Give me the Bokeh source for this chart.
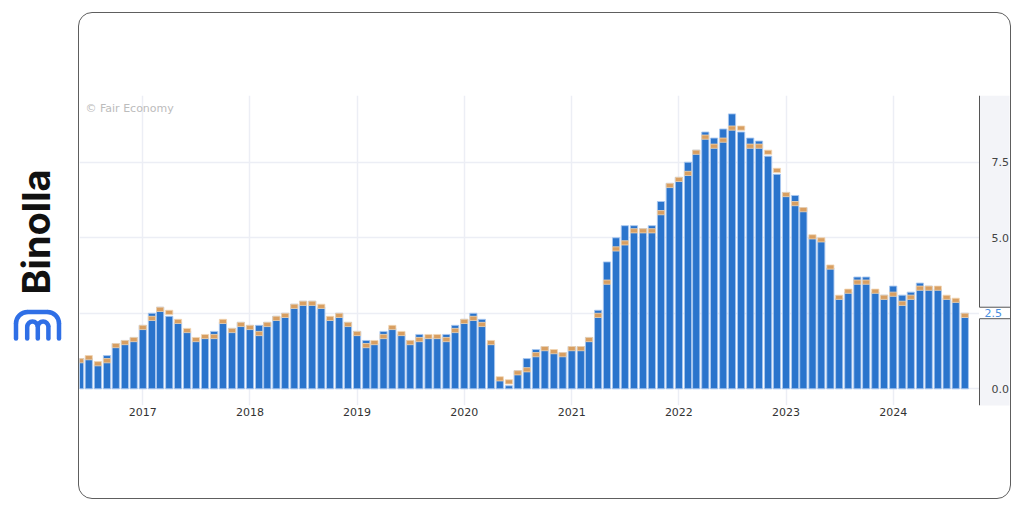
import numpy as np
import pandas as pd
from bokeh.plotting import figure
from bokeh.layouts import row, column
from bokeh.models import (Range1d, FixedTicker, DatetimeTickFormatter, PrintfTickFormatter,
                          Label, Spacer, LinearAxis, Grid)
from bokeh.embed import file_html
from bokeh.resources import INLINE

# ---------------- data (US CPI y/y, actual vs forecast, by release month) ----------------
months = pd.date_range("2016-06-01", "2024-09-01", freq="MS")
actual = [1.0, 1.0, 0.8, 1.1, 1.5, 1.6, 1.7,
          2.1, 2.5, 2.7, 2.4, 2.2, 1.9, 1.6, 1.7, 1.9, 2.2, 2.0, 2.2,
          2.1, 2.1, 2.2, 2.4, 2.5, 2.8, 2.9, 2.9, 2.7, 2.3, 2.5, 2.2,
          1.9, 1.6, 1.5, 1.9, 2.0, 1.8, 1.6, 1.8, 1.7, 1.7, 1.8, 2.1,
          2.3, 2.5, 2.3, 1.5, 0.3, 0.1, 0.6, 1.0, 1.3, 1.4, 1.2, 1.2,
          1.4, 1.4, 1.7, 2.6, 4.2, 5.0, 5.4, 5.4, 5.3, 5.4, 6.2, 6.8,
          7.0, 7.5, 7.9, 8.5, 8.3, 8.6, 9.1, 8.5, 8.3, 8.2, 7.7, 7.1,
          6.5, 6.4, 6.0, 5.0, 4.9, 4.0, 3.0, 3.2, 3.7, 3.7, 3.2, 3.1,
          3.4, 3.1, 3.2, 3.5, 3.4, 3.3, 3.0, 2.9, 2.5]
forecast = [1.0, 1.1, 0.9, 1.0, 1.5, 1.6, 1.7,
            2.1, 2.4, 2.7, 2.6, 2.3, 2.0, 1.7, 1.8, 1.8, 2.3, 2.0, 2.2,
            2.1, 1.9, 2.2, 2.4, 2.5, 2.8, 2.9, 2.9, 2.8, 2.4, 2.5, 2.2,
            1.9, 1.5, 1.6, 1.8, 2.1, 1.9, 1.6, 1.7, 1.8, 1.8, 1.7, 2.0,
            2.3, 2.4, 2.2, 1.6, 0.4, 0.3, 0.6, 0.7, 1.2, 1.4, 1.3, 1.2,
            1.4, 1.4, 1.7, 2.5, 3.6, 4.7, 4.9, 5.3, 5.3, 5.3, 5.9, 6.8,
            7.0, 7.2, 7.9, 8.4, 8.1, 8.3, 8.7, 8.7, 8.1, 8.1, 7.9, 7.3,
            6.5, 6.2, 6.0, 5.1, 5.0, 4.1, 3.1, 3.3, 3.6, 3.6, 3.3, 3.1,
            3.2, 2.9, 3.1, 3.4, 3.4, 3.4, 3.1, 3.0, 2.5]
year_ticks = ["2017", "2018", "2019", "2020", "2021", "2022", "2023", "2024"]
y_ticks = [0.0, 2.5, 5.0, 7.5]
last_value = actual[-1]
source_note = "\u00a9 Fair Economy"
brand = "Binolla"

# ---------------- pixel <-> data helpers (page coordinates) ----------------
t17 = pd.Timestamp("2017-01-01").value / 1e6
t24 = pd.Timestamp("2024-01-01").value / 1e6
PX17, PX24 = 142.3, 892.7
ms_per_px = (t24 - t17) / (PX24 - PX17)
Y0PX, PX_PER_UNIT = 388.3, 30.21

def px2x(px):
    return t17 + (px - PX17) * ms_per_px

def py2y(py):
    return (Y0PX - py) / PX_PER_UNIT

CARD_L, CARD_R, CARD_T, CARD_B = 78, 1010, 12, 498
W_CARD = CARD_R - CARD_L + 1          # border-box size of the card
H_CARD = CARD_B - CARD_T + 1
C_L, C_T = CARD_L + 1, CARD_T + 1      # canvas origin (inside 1px border)
AX = 979                               # right value-axis line
FL, FR, FT, FB = 79, 1009, 95, 405     # plot frame

BLUE = "#2a74cc"
ORANGE = "#d89f62"
BAND = 0.14
GRID = "#eceef5"

# ---------------- main chart (the card) ----------------
p = figure(width=W_CARD, height=H_CARD, x_axis_type="datetime", y_axis_location=None,
           x_range=Range1d(px2x(FL), px2x(FR)), y_range=Range1d(py2y(FB), py2y(FT)),
           toolbar_location=None, output_backend="svg",
           min_border_left=FL - C_L, min_border_right=(C_L + W_CARD) - FR,
           min_border_top=FT - C_T, min_border_bottom=(C_T + H_CARD) - FB,
           styles={"border": "1px solid #5e5e5e", "border-radius": "14px",
                   "overflow": "hidden"})
p.outline_line_color = None
p.background_fill_color = "white"
p.border_fill_alpha = 0
for g in p.ygrid:
    g.visible = False

xt = [pd.Timestamp(y + "-01-01").value / 1e6 for y in year_ticks]
p.xgrid.ticker = FixedTicker(ticks=xt)
p.xgrid.grid_line_color = GRID
p.xgrid.grid_line_width = 1.5
p.add_layout(Grid(dimension=1, ticker=FixedTicker(ticks=y_ticks),
                  grid_line_color=GRID, grid_line_width=1.5))

bar_w = 7.2 * ms_per_px
fc = np.array(forecast)
p.vbar(x=months, top=actual, bottom=0, width=bar_w, fill_color=BLUE,
       line_color="#a9c7ef", line_width=0.9)
p.vbar(x=months, top=fc, bottom=fc - BAND, width=bar_w, fill_color=ORANGE,
       line_color="#f1d6b4", line_width=0.8)

p.xaxis.ticker = FixedTicker(ticks=xt)
p.xaxis.formatter = DatetimeTickFormatter(years="%Y", months="%Y", days="%Y", hours="%Y",
                                          minutes="%Y", seconds="%Y", milliseconds="%Y",
                                          microseconds="%Y", minsec="%Y", hourmin="%Y")
p.xaxis.axis_line_color = None
p.xaxis.major_tick_line_color = None
p.xaxis.minor_tick_line_color = None
p.xaxis.major_label_standoff = -4
p.xaxis.major_label_text_font = "DejaVu Sans"
p.xaxis.major_label_text_font_size = "11px"
p.xaxis.major_label_text_color = "#333333"

# right value-axis panel (light background), drawn over the grid
edge = px2x(AX)
p.quad(left=[edge], right=[px2x(FR + 5)], bottom=[py2y(FB + 10)], top=[py2y(FT)],
       fill_color="#f3f4f8", line_color=None)

yaxis = LinearAxis(ticker=FixedTicker(ticks=y_ticks), fixed_location=edge,
                   formatter=PrintfTickFormatter(format="%.1f"),
                   major_label_overrides={last_value: ""},
                   bounds=(py2y(415), py2y(FT)),
                   axis_line_color="#555555", major_tick_line_color=None,
                   minor_tick_line_color=None, major_label_standoff=6,
                   major_label_text_font="DejaVu Sans", major_label_text_font_size="11px",
                   major_label_text_color="#444444")
p.add_layout(yaxis, "right")

# current-value marker on the axis
mk = p.quad(left=[edge - 0.5 * ms_per_px], right=[px2x(FR + 5)],
            bottom=[last_value - 0.18], top=[last_value + 0.2],
            fill_color="white", line_color=None)
mk.level = "overlay"
rl = p.segment(x0=[edge, edge], x1=[px2x(FR + 5)] * 2,
               y0=[last_value - 0.18, last_value + 0.2], y1=[last_value - 0.18, last_value + 0.2],
               line_color="#555555", line_width=1)
rl.level = "overlay"
p.add_layout(Label(x=edge, y=last_value, x_offset=5, text="%.1f" % last_value,
                   text_color="#4a90e2", text_font="DejaVu Sans", text_font_size="11px",
                   text_baseline="middle", level="overlay"))

p.add_layout(Label(x=px2x(85), y=py2y(108), text=source_note, text_color="#bcbcbc",
                   text_font="DejaVu Sans", text_font_size="11px", text_baseline="middle"))

# ---------------- left brand panel ----------------
q = figure(width=CARD_L, height=512, x_range=Range1d(0, CARD_L), y_range=Range1d(-512, 0),
           toolbar_location=None, output_backend="svg", min_border=0,
           x_axis_location=None, y_axis_location=None)
q.grid.visible = False
q.outline_line_color = None
q.border_fill_color = "white"
q.background_fill_color = "white"

q.text(x=[35.7], y=[-231.5], text=[brand], angle=np.pi / 2, text_align="center",
       text_baseline="alphabetic", text_font_size="38px", text_font_style="bold",
       text_color="#111111", text_font={"value": "Inter"})

LOGO = "#2f6fe6"
lw = 4.5
q.arc(x=[27, 47], y=[-323, -323], radius=11.5, start_angle=[np.pi / 2, 0],
      end_angle=[np.pi, np.pi / 2], line_color=LOGO, line_width=lw)
q.segment(x0=[27, 15.5, 58.5], y0=[-311.5, -323, -323], x1=[47, 15.5, 58.5],
          y1=[-311.5, -338, -338], line_color=LOGO, line_width=lw, line_cap="round")
q.arc(x=[32, 42.6], y=[-326.3, -326.3], radius=5.3, start_angle=0, end_angle=np.pi,
      line_color=LOGO, line_width=lw)
q.segment(x0=[26.7, 37.3, 47.9], y0=[-326.3] * 3, x1=[26.7, 37.3, 47.9], y1=[-338] * 3,
          line_color=LOGO, line_width=lw, line_cap="round")

layout = row(q, column(Spacer(width=W_CARD, height=CARD_T), p))
open("out.html", "w").write(file_html(layout, INLINE))
